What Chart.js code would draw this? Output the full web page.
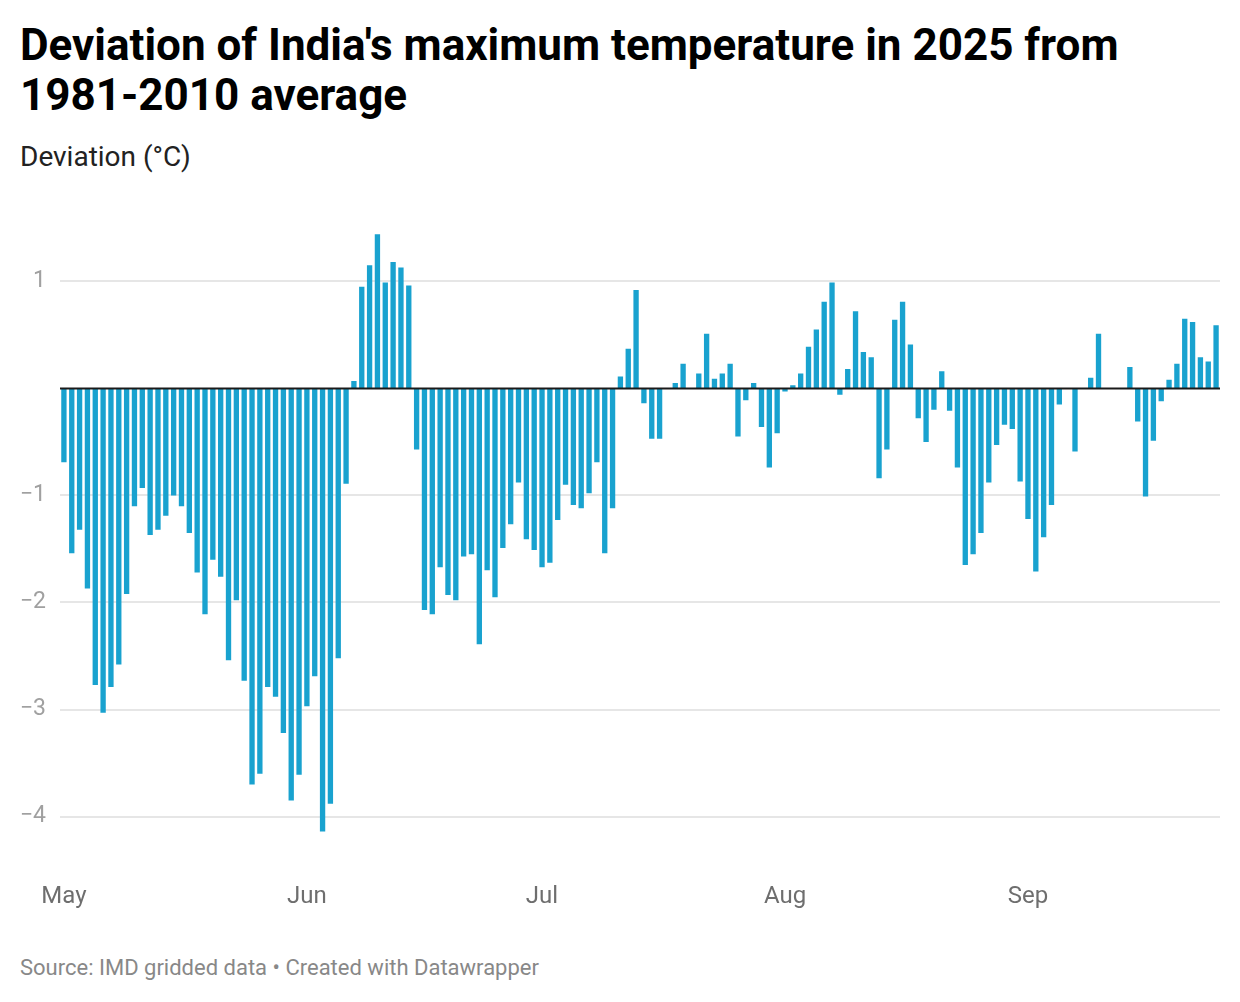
<!DOCTYPE html>
<html>
<head>
<meta charset="utf-8">
<title>India max temperature deviation 2025</title>
<script src="https://cdn.jsdelivr.net/npm/chart.js@4.4.1/dist/chart.umd.min.js"></script>
<style>
    html, body { margin: 0; padding: 0; background: #fff; }
    body { width: 1240px; height: 1002px; position: relative; overflow: hidden; font-family: Roboto, "Noto Sans", sans-serif; }
    .title { position: absolute; left: 20px; top: 20px; width: 1210px; font-size: 44px; font-weight: 700; line-height: 50px; color: #000; }
    .subtitle { position: absolute; left: 20px; top: 141px; font-size: 28px; line-height: 32px; color: #222; }
    .chart-wrap { position: absolute; left: 0; top: 200px; width: 1240px; height: 720px; }
    .footer { position: absolute; left: 20px; top: 955px; font-size: 22px; line-height: 26px; color: #888; }
</style>
</head>
<body>
<div class="title">Deviation of India's maximum temperature in 2025 from<br>1981-2010 average</div>
<div class="subtitle">Deviation (°C)</div>
<div class="chart-wrap"><canvas id="chart" width="1240" height="720"></canvas></div>
<div class="footer">Source: IMD gridded data • Created with Datawrapper</div>

<script>
;(function (global) {
    'use strict';

    // month names and number of days shown for each
    var months = ['May', 'Jun', 'Jul', 'Aug', 'Sep'];
    var monthDays = [31, 30, 31, 31, 25];

    // daily deviation (°C); null = no bar drawn
    var mayValues = [
        -0.69, -1.54, -1.32, -1.87, -2.77, -3.03, -2.79, -2.58, -1.92, -1.10,
        -0.93, -1.37, -1.32, -1.19, -1.00, -1.10, -1.35, -1.72, -2.11, -1.60,
        -1.76, -2.54, -1.98, -2.73, -3.70, -3.60, -2.79, -2.88, -3.22, -3.85, -3.61
    ];
    var junValues = [
        -2.97, -2.69, -4.14, -3.88, -2.52, -0.89, 0.07, 0.95, 1.15, 1.44,
        0.99, 1.18, 1.13, 0.96, -0.57, -2.07, -2.11, -1.67, -1.93, -1.98,
        -1.57, -1.55, -2.39, -1.70, -1.95, -1.49, -1.27, -0.88, -1.41, -1.51
    ];
    var julValues = [
        -1.67, -1.63, -1.23, -0.90, -1.09, -1.12, -0.98, -0.69, -1.54, -1.12,
        0.11, 0.37, 0.92, -0.14, -0.47, -0.47, null, 0.05, 0.23, null,
        0.14, 0.51, 0.09, 0.14, 0.23, -0.45, -0.11, 0.05, -0.36, -0.74, -0.42
    ];
    var augValues = [
        -0.03, 0.03, 0.14, 0.39, 0.55, 0.81, 0.99, -0.06, 0.18, 0.72,
        0.34, 0.29, -0.84, -0.57, 0.64, 0.81, 0.41, -0.28, -0.50, -0.20,
        0.16, -0.21, -0.74, -1.65, -1.55, -1.35, -0.88, -0.53, -0.34, -0.38, -0.87
    ];
    var sepValues = [
        -1.22, -1.71, -1.39, -1.09, -0.15, null, -0.59, null, 0.10, 0.51,
        null, null, null, 0.20, -0.31, -1.01, -0.49, -0.12, 0.08, 0.23,
        0.65, 0.62, 0.29, 0.25, 0.59
    ];

    var yTicks = [1, -1, -2, -3, -4];

    var BAR_COLOR = '#19a2cf';
    var GRID_COLOR = '#e6e6e6';

    // build "May 1", "May 2", ... labels and remember where each month starts
    var labels = [];
    var monthStart = {};
    for (var m = 0; m < months.length; m++) {
        monthStart[labels.length] = months[m];
        for (var d = 1; d <= monthDays[m]; d++) {
            labels.push(months[m] + ' ' + d);
        }
    }
    var values = [].concat(mayValues, junValues, julValues, augValues, sepValues);

    // black baseline drawn over the bars
    var zeroLine = {
        id: 'zeroLine',
        afterDatasetsDraw: function (chart) {
            var y = chart.scales.y.getPixelForValue(0);
            var ctx = chart.ctx;
            ctx.save();
            ctx.strokeStyle = '#1a1a1a';
            ctx.lineWidth = 2;
            ctx.beginPath();
            ctx.moveTo(chart.chartArea.left, y);
            ctx.lineTo(chart.chartArea.right, y);
            ctx.stroke();
            ctx.restore();
        }
    };

    new Chart(document.getElementById('chart'), {
        type: 'bar',
        data: {
            labels: labels,
            datasets: [{
                data: values,
                backgroundColor: BAR_COLOR,
                borderWidth: 0,
                barPercentage: 0.68,
                categoryPercentage: 1
            }]
        },
        options: {
            responsive: false,
            animation: false,
            layout: { padding: { top: 25, right: 20, left: 0, bottom: 0 } },
            plugins: {
                legend: { display: false },
                tooltip: { enabled: false }
            },
            scales: {
                x: {
                    // invisible tick marks push the month labels down without
                    // the horizontal padding that ticks.padding would add
                    grid: { display: true, drawOnChartArea: false, drawTicks: true, tickLength: 45, tickColor: 'rgba(0,0,0,0)', color: 'rgba(0,0,0,0)' },
                    border: { display: false },
                    afterFit: function (scale) { scale.height = 82; },
                    ticks: {
                        autoSkip: false,
                        maxRotation: 0,
                        minRotation: 0,
                        padding: 0,
                        color: '#6e6e6e',
                        font: { family: 'Roboto', size: 24 },
                        callback: function (val, idx) {
                            return monthStart[idx] || '';
                        }
                    }
                },
                y: {
                    min: -4.2,
                    max: 1.5,
                    afterBuildTicks: function (scale) {
                        scale.ticks = yTicks.map(function (v) { return { value: v }; });
                    },
                    afterFit: function (scale) { scale.width = 60; },
                    grid: { color: GRID_COLOR, lineWidth: 2, drawTicks: false },
                    border: { display: false },
                    ticks: {
                        padding: 14,
                        color: '#a0a0a0',
                        font: { family: 'Roboto', size: 23 },
                        callback: function (val) {
                            return val < 0 ? '\u2212' + Math.abs(val) : String(val);
                        }
                    }
                }
            }
        },
        plugins: [zeroLine]
    });

})(window);
</script>
</body>
</html>
